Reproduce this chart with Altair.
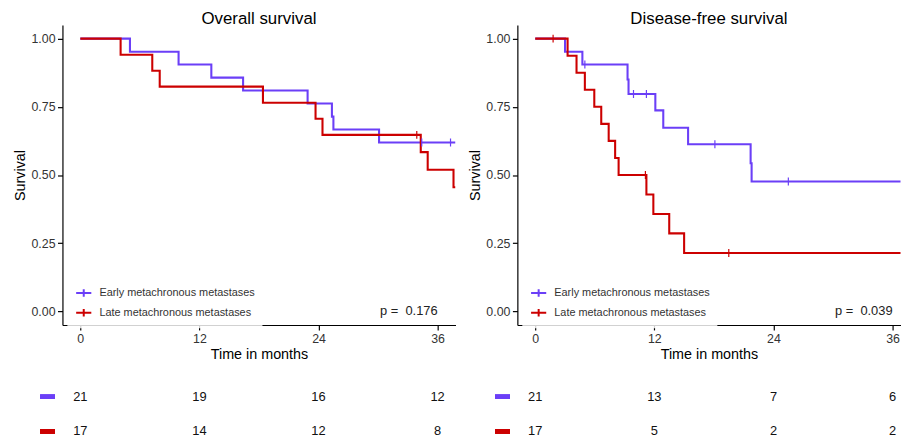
import altair as alt
import pandas as pd

FONT = "Liberation Sans"
BLUE = "#6B3FF7"
RED = "#CC0000"
GROUPS = ["Early metachronous metastases", "Late metachronous metastases"]

# ---- Overall survival (months, survival probability) ----
os_early_t = [0, 5.0, 9.9, 13.2, 16.4, 22.9, 25.35, 25.5, 30.1, 37.8]
os_early_s = [1.0, 0.952, 0.905, 0.857, 0.810, 0.762, 0.714, 0.667, 0.619, 0.619]
os_early_cens_t = [34.4, 37.3]
os_early_cens_s = [0.619, 0.619]

os_late_t = [0, 4.06, 7.25, 8.0, 18.4, 23.7, 24.4, 34.3, 35.0, 37.6, 37.8]
os_late_s = [1.0, 0.941, 0.882, 0.824, 0.765, 0.706, 0.647, 0.584, 0.519, 0.455, 0.455]
os_late_cens_t = [33.9]
os_late_cens_s = [0.647]

os_p = "p = \u00a00.176"
os_risk_early = [21, 19, 16, 12]
os_risk_late = [17, 14, 12, 8]

# ---- Disease-free survival ----
dfs_early_t = [0, 3.0, 4.75, 9.3, 9.4, 12.1, 12.9, 15.4, 21.7, 21.8, 37.8]
dfs_early_s = [1.0, 0.952, 0.905, 0.850, 0.797, 0.737, 0.673, 0.613, 0.543, 0.476, 0.476]
dfs_early_cens_t = [5.0, 9.9, 11.2, 18.1, 25.5]
dfs_early_cens_s = [0.905, 0.797, 0.797, 0.613, 0.476]

dfs_late_t = [0, 3.26, 4.16, 5.0, 5.95, 6.65, 7.4, 8.05, 8.4, 11.2, 11.9, 13.5, 15.0, 37.8]
dfs_late_s = [1.0, 0.9375, 0.875, 0.8125, 0.75, 0.6875, 0.625, 0.5625, 0.5, 0.4286, 0.357, 0.286, 0.214, 0.214]
dfs_late_cens_t = [1.8, 11.1, 19.5]
dfs_late_cens_s = [1.0, 0.5, 0.214]

dfs_p = "p = \u00a00.039"
dfs_risk_early = [21, 13, 7, 6]
dfs_risk_late = [17, 5, 2, 2]

risk_times = [0, 12, 24, 36]
x_ticks = [0, 12, 24, 36]
y_ticks = [0, 0.25, 0.5, 0.75, 1.0]


def panel(title, e_t, e_s, l_t, l_s, ec_t, ec_s, lc_t, lc_s, pval, r_e, r_l, xmax, width):
    curves = pd.concat([
        pd.DataFrame({"t": e_t, "s": e_s, "group": GROUPS[0]}),
        pd.DataFrame({"t": l_t, "s": l_s, "group": GROUPS[1]}),
    ])
    cens = pd.concat([
        pd.DataFrame({"t": ec_t, "s": ec_s, "group": GROUPS[0]}),
        pd.DataFrame({"t": lc_t, "s": lc_s, "group": GROUPS[1]}),
    ])
    risk = pd.concat([
        pd.DataFrame({"t": risk_times, "n": r_e, "group": GROUPS[0]}),
        pd.DataFrame({"t": risk_times, "n": r_l, "group": GROUPS[1]}),
    ])

    xs = alt.Scale(domain=[-1.8, xmax], nice=False, zero=False)
    ys = alt.Scale(domain=[-0.05, 1.05], nice=False, zero=False)
    legend = alt.Legend(
        title=None, orient="none", legendX=5, legendY=254.2,
        symbolType="M-0.9,0H0.9M0,-0.45V0.45", symbolSize=289,
        symbolStrokeWidth=2, symbolOpacity=1, labelFontSize=11, labelFont=FONT,
        labelColor="#333333", rowPadding=2, padding=7, labelOffset=6.3,
        fillColor="rgba(255,255,255,0.82)", zindex=1,
    )
    color = alt.Color("group:N", scale=alt.Scale(domain=GROUPS, range=[BLUE, RED]), legend=legend)
    x = alt.X("t:Q", scale=xs, axis=alt.Axis(values=x_ticks, title="Time in months", titlePadding=3))
    y = alt.Y("s:Q", scale=ys, axis=alt.Axis(values=y_ticks, format=".2f", title="Survival", titlePadding=3))

    base = alt.Chart(curves)
    line_e = base.mark_line(interpolate="step-after", strokeWidth=2.1, clip=True).encode(
        x=x, y=y, color=color).transform_filter(alt.datum.group == GROUPS[0])
    line_l = base.mark_line(interpolate="step-after", strokeWidth=2.1, clip=True).encode(
        x=x, y=y, color=color).transform_filter(alt.datum.group == GROUPS[1])
    ticks = alt.Chart(cens).mark_tick(orient="vertical", size=8, thickness=1.2, opacity=1, clip=True).encode(
        x=x, y=y, color=color)
    ptext = alt.Chart(pd.DataFrame({"k": [0]})).mark_text(
        text=pval, align="right", baseline="middle", fontSize=13, font=FONT, color="#222222"
    ).encode(x=alt.datum(36), y=alt.datum(0.0))

    plot = alt.layer(line_e, line_l, ticks, ptext)

    ry = alt.Y("group:N", scale=alt.Scale(type="point", domain=GROUPS, range=[375.5, 410.5], padding=0), axis=None)
    rtext = alt.Chart(risk).mark_text(fontSize=13, font=FONT, color="#111111", baseline="middle").encode(
        x=alt.X("t:Q", scale=xs), y=ry, text="n:Q")
    swatch = alt.Chart(risk).mark_tick(orient="horizontal", size=15, thickness=4.5, opacity=1).encode(
        x=alt.datum(-3.3), y=ry, color=color)
    table = alt.layer(swatch, rtext)

    return alt.layer(plot, table).resolve_scale(y="independent").properties(
        width=width, height=303,
        title=alt.TitleParams(title, fontSize=17, fontWeight="normal", font=FONT, color="black",
                              anchor="middle", frame="group", baseline="bottom", offset=-20),
    )


left = panel("Overall survival", os_early_t, os_early_s, os_late_t, os_late_s,
             os_early_cens_t, os_early_cens_s, os_late_cens_t, os_late_cens_s,
             os_p, os_risk_early, os_risk_late, 37.8, 397)
right = panel("Disease-free survival", dfs_early_t, dfs_early_s, dfs_late_t, dfs_late_s,
              dfs_early_cens_t, dfs_early_cens_s, dfs_late_cens_t, dfs_late_cens_s,
              dfs_p, dfs_risk_early, dfs_risk_late, 36.8, 387)

chart = alt.hconcat(left, right, spacing=12.5).resolve_scale(color="independent").resolve_legend(
    color="independent"
).properties(
    padding={"left": 5, "top": 0, "right": 0, "bottom": 0}
).configure_view(stroke=None).configure_axis(
    grid=False, domainColor="black", domainWidth=1.2, tickColor="black", tickWidth=1.2,
    tickSize=5, labelPadding=2.5, labelFont=FONT, labelFontSize=12.5, labelColor="#333333",
    titleFont=FONT, titleFontSize=14.5, titleFontWeight="normal", titleColor="black",
)

chart.save("out.html", embed_options={"renderer": "svg", "actions": False})
